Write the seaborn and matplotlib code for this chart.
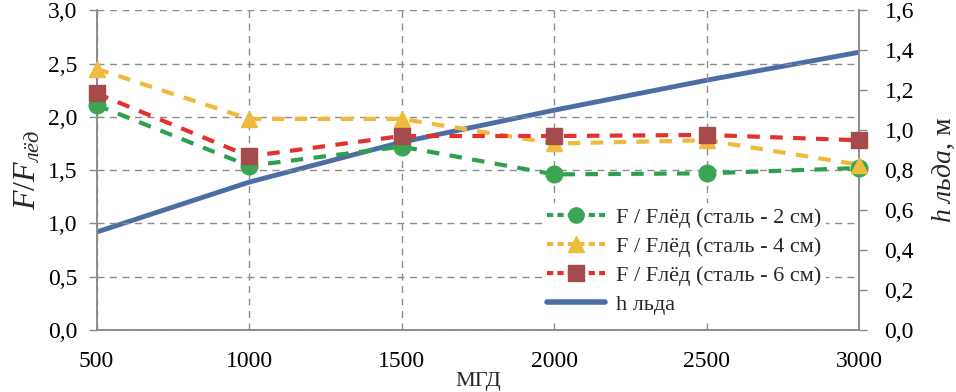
import matplotlib.pyplot as plt
import seaborn as sns
import pandas as pd
import numpy as np
from matplotlib.lines import Line2D

# 1. style
sns.set_theme(style="white")
plt.rcParams['font.family'] = ['Liberation Serif', 'DejaVu Serif']
plt.rcParams['mathtext.fontset'] = 'custom'
plt.rcParams['mathtext.rm'] = 'Liberation Serif'
plt.rcParams['mathtext.it'] = 'Liberation Serif:italic'

# 2. data
mgd = [500, 1000, 1500, 2000, 2500, 3000]
f_steel_2 = [2.11, 1.54, 1.72, 1.46, 1.47, 1.52]
f_steel_4 = [2.45, 1.98, 1.98, 1.75, 1.78, 1.55]
f_steel_6 = [2.22, 1.63, 1.82, 1.82, 1.83, 1.78]
h_ice = [0.49, 0.74, 0.94, 1.10, 1.25, 1.39]

labels = ['F / Fлёд (сталь - 2 см)', 'F / Fлёд (сталь - 4 см)',
          'F / Fлёд (сталь - 6 см)', 'h льда']

# 3. colours
line_cols = ['#2e9e4f', '#f0b93c', '#e2312f']
marker_cols = ['#3aa655', '#eebb3e', '#a64b4b']
markers = ['o', '^', 's']
blue = '#4b6ea6'

# 4. canvas
fig = plt.figure(figsize=(9.56, 3.92), dpi=100)
ax = fig.add_axes([0.101, 0.158, 0.798, 0.816])
ax2 = ax.twinx()

# blue thickness line on the right axis
sns.lineplot(x=mgd, y=h_ice, ax=ax2, color=blue, linewidth=3.5, zorder=2)

for vals, lc, mc, mk in zip([f_steel_2, f_steel_4, f_steel_6], line_cols, marker_cols, markers):
    sns.lineplot(x=mgd, y=vals, ax=ax, color=lc, linewidth=3, linestyle=(0, (3, 2.5)),
                 zorder=3)
    ax.plot(mgd, vals, linestyle='none', marker=mk, markersize=12,
            markerfacecolor=mc, markeredgecolor=mc, zorder=4, clip_on=False)

ax.set_zorder(ax2.get_zorder() + 1)
ax.patch.set_visible(False)

# 5. axes
ax.set_xlim(500, 3000)
ax.set_ylim(0, 3.0)
ax2.set_ylim(0, 1.6)
ax.set_xticks(mgd)
ax.set_yticks(np.arange(0, 3.01, 0.5))
ax2.set_yticks(np.arange(0, 1.61, 0.2))
ax.set_yticklabels([f'{v:.1f}'.replace('.', ',') for v in np.arange(0, 3.01, 0.5)])
ax2.set_yticklabels([f'{v:.1f}'.replace('.', ',') for v in np.arange(0, 1.61, 0.2)])

ax.grid(True, color='#8c8c8c', linestyle=(0, (5, 4)), linewidth=1)
ax2.grid(False)
for a in (ax, ax2):
    for s in a.spines.values():
        s.set_color('#8c8c8c')
        s.set_linewidth(1.2)
    a.spines['top'].set_visible(False)
    a.tick_params(axis='both', colors='#8c8c8c', labelcolor='black', labelsize=17,
                  direction='out', length=6, width=1)
ax.tick_params(axis='x', pad=9)
ax.tick_params(axis='y', pad=8)
ax2.tick_params(axis='y', pad=12)

ax.set_ylabel('$F/F_{лёд}$', fontsize=23, labelpad=4)
ax2.set_ylabel('$h\\ льда$, м', fontsize=20, labelpad=12)
ax.set_xlabel('МГД', fontsize=16, labelpad=0)

# 6. legend
handles = [Line2D([], [], color=lc, linewidth=3, linestyle=(0, (1.5, 1)), marker=mk,
                  markersize=11, markerfacecolor=mc, markeredgecolor=mc)
           for lc, mc, mk in zip(line_cols, marker_cols, markers)]
handles.append(Line2D([], [], color=blue, linewidth=4))
leg = ax.legend(handles, labels, loc='lower left', bbox_to_anchor=(0.57, 0.0),
                frameon=True, fontsize=16, handlelength=2.6, handletextpad=0.5,
                labelspacing=0.38, borderpad=0.2)
leg.get_frame().set_facecolor('white')
leg.get_frame().set_edgecolor('none')
leg.get_frame().set_alpha(1)

fig.savefig('out.png', dpi=100)
